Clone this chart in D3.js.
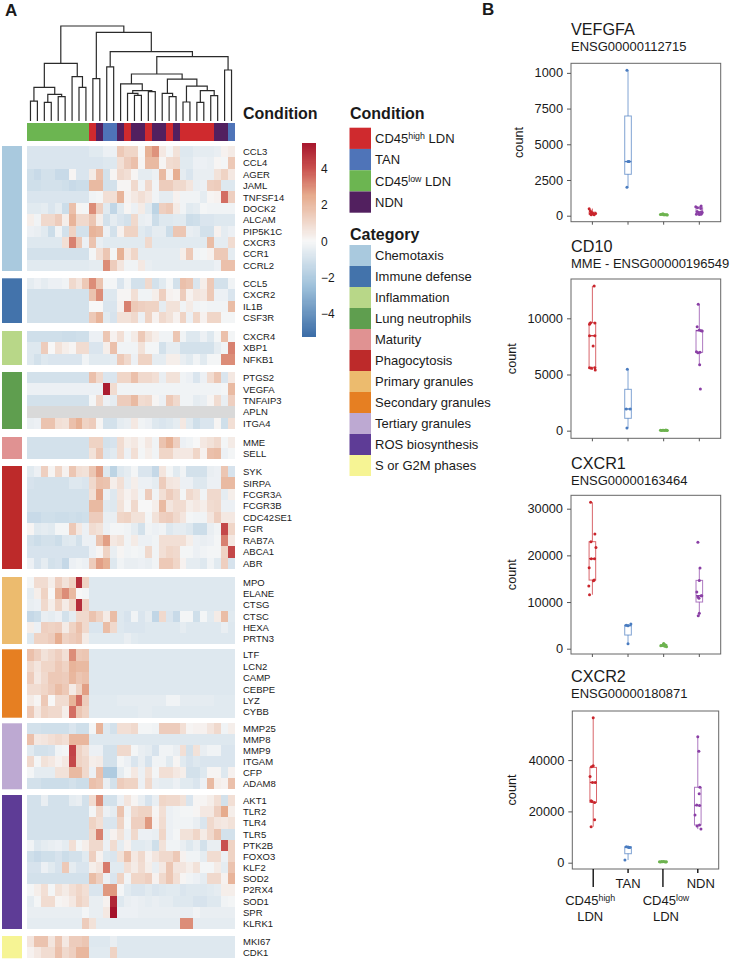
<!DOCTYPE html>
<html>
<head>
<meta charset="utf-8">
<title>Neutrophil heatmap and counts</title>
<style>
body { margin: 0; background: #fff; }
text { font-family: "Liberation Sans", Arial, sans-serif; fill: #1a1a1a; }
</style>
</head>
<body>
<div id="chart"></div>
<script src="https://d3js.org/d3.v7.min.js"></script>
<script>

// Conditions and categories
var conditions = ["high", "TAN", "low", "NDN"];
var conditionColors = ["#cf2a2e", "#4f74b8", "#6cb551", "#52205f"];
var categories = ["Chemotaxis", "Immune defense", "Inflammation", "Lung neutrophils", "Maturity", "Phagocytosis",
    "Primary granules", "Secondary granules", "Tertiary granules", "ROS biosynthesis", "S or G2M phases"];
var categoryColors = ["#a9c9de", "#4373ab", "#b8d788", "#5f9e4f", "#e09292", "#bd2a2a",
    "#ecbb6e", "#e67f22", "#bda9d2", "#5e3c96", "#f6f494"];

// Condition of every heatmap column, left to right
var columnConditions = ["low","low","low","low","low","low","low","low","low",
    "high","NDN","TAN","TAN","NDN","high","NDN","NDN","high","NDN","NDN","high","NDN",
    "high","high","high","high","high","NDN","NDN","TAN"];

// Dendrogram: [merge height, left, right], a number is a column
var treeGreen = [60.7, [35.4, [21, 0, 1], [28, [19.6, 2, 3], [25.6, 4, 5]]], [46.7, 6, [35.4, 7, 8]]];
var treeRight = [67.7,
    [49.5,
        [39, 13, [32, [29, 14, [27, 15, 16]], [31, 17, 18]]],
        [44, [29, 19, [25.6, 20, 21]], [36.8, [20, 22, 23], [32, [19.6, 24, 25], [26.7, 26, 27]]]]],
    [53.7, 28, 29]];
var treeRoot = [100, treeGreen, [93.3, [44.6, 9, 10], [73, [57, 11, 12], treeRight]]];

// Heatmap z-scores per category
var chemotaxisGenes = ["CCL3","CCL4","AGER","JAML","TNFSF14","DOCK2","ALCAM","PIP5K1C","CXCR3","CCR1","CCRL2"];
var chemotaxisValues = [
[-.8,-.8,-.8,-.8,-.8,-.8,-.8,-.8,-.8,-.6,-.6,-.3,-.3,1.5,1.1,1.1,0,2.3,2.9,.5,-.1,.7,-.7,-.7,-.5,-.5,-.5,-.4,.2,.4],
[-.8,-.8,-.8,-.8,-.8,-.8,-.8,-.8,-.8,-.8,-.8,-.7,-.7,.8,1.4,1.8,.1,2,2,.1,.9,1,-.6,-.6,-.3,-.3,-.4,.1,-.1,1.5],
[-1.1,-1.3,-1,-1,-1.3,-1.3,.1,-.8,-.8,.4,1.8,-1,.1,1,.8,.1,-.5,-.5,-.3,2,.2,2.4,-.5,-.8,-.4,-.4,-.4,.7,1.2,.5],
[-1.1,-1.1,-1,-1,-1,-1.1,-1.3,-1.2,-1.2,2,2,-1,-1,.1,.1,1,-.2,1,-.2,1.4,1.4,1,1,.6,-.4,-.3,1.3,1.4,-.7,-.7],
[-.8,-.8,-.8,-.8,-.8,-.8,-.8,-.8,-.8,-.2,-.1,.8,.8,2.2,.2,.5,.8,.5,-.2,-.5,-.5,.2,-.2,-.2,-.2,-.5,.1,.2,3.5,1.3],
[-.6,-.6,-.5,-.8,-.5,-1.2,1.8,.1,-.1,3,1.3,-.6,-1.5,-.6,.1,-.3,.4,-.6,-1.6,1.3,1.5,.4,-.2,-.6,-.5,-.1,-.2,-.2,-.2,-.2],
[.3,-.2,1,1,1.4,.3,2.2,1,1,1.6,.3,-1,-.5,-.8,-1,1,-.4,-.3,-1.2,-.7,-.7,-.6,-.6,-1.2,-1.1,-.8,-.8,-.7,-.7,-.7],
[-.3,-.4,-.6,-1.2,-.2,-1,1.2,-1,-1,2.2,2,-.3,-1,.2,1.2,1.2,-.6,-.8,-.5,-.5,-1.2,1.6,1.6,-.4,-.5,-1,-1,.2,-.5,-.3],
[-.7,-.7,-.7,-.7,-.7,.8,3.2,1.5,-.3,1.7,-.4,-.6,-.6,-.6,-.6,-.6,-.6,1,-.6,-.6,-.6,-.6,-.6,-.6,-.6,-.6,1.9,-.5,-.5,.9],
[-1,-1,-1,-1,-1,-1,-1,-1,-1,-.1,.8,1.6,-.1,2.3,.5,1.1,-.5,-.5,-.5,-.5,-.5,-.5,.3,1.5,-.2,-.1,.2,1.5,1.5,-.5],
[-.6,-.6,-.6,-.6,-.6,-.6,-.6,-.6,-.6,-.5,-.5,3,1.4,.6,-.2,-.2,.5,-.4,-.5,-.5,-.5,-.5,-.5,-.5,-.5,-.5,-.5,-.3,1.8,1.8]];

var immuneGenes = ["CCL5","CXCR2","IL1B","CSF3R"];
var immuneValues = [
[-.5,-.3,-.5,-.3,-.3,-.2,1,.6,1.5,3,1.7,-.1,-.1,-.8,-.2,-1,-1,1,-1,-.6,-.1,-1,1.8,1.6,-.8,.3,1.5,-1,-1,-.2],
[-1,-1,-1,-1,-1,-1,-1,-1,-1,1.7,3,-.7,-.7,.1,.1,.8,-.2,-.2,.3,1.3,.2,.1,1.4,.2,.6,.5,1.5,-.3,-.3,-.8],
[-1,-1,-1,-1,-1,-1,-1,-1,-1,0,0,-.8,-.8,.2,3.2,1.5,1.3,1.2,1.2,-.5,.7,.7,-.2,.4,-.2,-.1,-.2,-.2,-.2,1.9],
[-1,-1,-1,-1,-1,-1,-1,-1,-1,1.5,2.2,-.6,-.9,.7,.7,1,-.3,1.2,.2,1,.7,.2,1.2,-.3,1.1,.2,1.1,1.1,-.1,-.1]];

var inflammationGenes = ["CXCR4","XBP1","NFKB1"];
var inflammationValues = [
[-1.1,-1.1,-1.1,-1.1,-1.1,-1.2,-1.2,-1.1,-1.1,-.3,-.3,1.6,.2,.8,-.1,.4,1.5,.7,.3,-.2,-.2,1.6,-.2,-.7,-.7,-.3,-.7,-.1,1.8,-.1],
[-.7,-.7,1.4,0,.7,.3,.1,.9,.9,-.8,-.8,.3,1.8,-.2,-.2,-.2,.7,-.1,-.1,-1,-.5,-.5,-1,-1,-1,-1,-1,-.5,-.2,3.2],
[-.7,-1,-.7,-.8,-.8,-.8,-.8,-.8,-.2,-.6,-.6,-.6,-.5,1.5,1,-.3,1.2,1.2,-.5,-.5,.3,.3,-.4,-.6,-.2,-.6,-.1,-.1,3,3]];

var lungGenes = ["PTGS2","VEGFA","TNFAIP3","APLN","ITGA4"];
var lungValues = [
[-1,-1,-1,-1,-1,-1,-1,-1,-1,1.8,1,-.8,-.8,1.1,1.1,1.8,1,1,.8,-.4,.7,.7,-.2,-.3,-.8,-.3,.9,1.6,-.8,.5],
[-.3,-.3,-.3,-.3,-.3,-.3,-.3,-.3,-.3,-.3,-.3,5.2,.9,-.2,-.2,-.2,-.2,-.2,-.2,-.2,-.2,-.2,-.2,-.2,-.2,-.2,-.2,-.2,-.1,2],
[-1,-1,-1,-1,-1,-1,-1,-1,-1,-.1,1,-.3,-.5,1.4,1.4,2,.9,1,.1,-.3,1.5,1,-.2,-.2,-.5,-.4,.1,.9,-.4,1.3],
[null,null,null,null,null,null,null,null,null,null,null,null,null,null,null,null,null,null,null,null,null,null,null,null,null,null,null,null,null,null],
[-.4,-.3,1.7,1.7,.8,.7,1.8,2.3,1.2,1.4,.1,-1,-1,-.5,-.4,.5,-.2,-.3,-.7,-.8,-.7,-.5,.5,-.6,-1.1,-.8,-.8,.1,-1.1,.8]];

var maturityGenes = ["MME","SELL"];
var maturityValues = [
[-1,-1,-1,-1,-1,-1,-1,-1,-1,1.2,1.2,-1,-.9,.9,.3,.5,.1,.5,-.2,1.7,2.3,1.3,-.3,-.2,0,.5,.7,1,-.1,.4],
[-1,-1,-1,-1,-1,-1,-1,-1,-1,.7,1.6,-.8,-.6,.9,-.3,.8,-.1,.3,-.2,1.1,1.1,.5,.5,.5,1.1,.2,1.8,1.9,-.3,-.1]];

var phagocytosisGenes = ["SYK","SIRPA","FCGR3A","FCGR3B","CDC42SE1","FGR","RAB7A","ABCA1","ABR"];
var phagocytosisValues = [
[-.6,-.3,1.3,.1,1.1,.2,1.6,.8,.7,1.6,2.7,-.7,-1.6,-.7,-.5,-.1,-.8,-.8,-1.4,.6,-.1,-.6,-.2,-1,-1,-1,-.4,-.3,1.6,-.9],
[-.9,-1,-1,-1,-1,-1,-.7,-.7,-.8,1,1.8,1.7,.3,.8,-.4,.3,-.3,-.3,-.5,1.4,.6,.5,-.3,-.3,-.7,-.7,-.3,-.3,2,2],
[-1,-1,-1,-1,-1,-1,-1,-1,-1,.8,2.6,-.3,-.7,.6,.2,.5,-.2,1.4,-.2,.8,1.4,1,-.1,1,.7,-.2,1,1,-.5,.3],
[-1,-1,-1,-1,-1,-1,-1,-1,-1,2,2,-.6,-.7,.7,.1,1,0,0,.3,2,.6,.9,.9,.3,.5,.3,.9,1,-.3,-.3],
[-1.3,-1.3,-1.1,-1.1,-1.2,-1.2,-1.1,-1.2,-1.1,1.4,1.4,-.4,-.4,1.1,1.2,.7,.7,-.1,.7,1.3,1.4,1,.6,-.1,-.2,-.2,.6,1.3,.5,.5],
[.1,-.6,-.5,-.6,-.1,-.1,1.5,.5,-.3,.9,.7,-.3,-.1,-.1,-.2,-.5,-1,-.2,-.3,-.2,-.7,-.5,-.5,-.7,-1.2,-1.2,-.4,-.2,4.2,1.1],
[-1,-1.2,-1,-1,-1.2,-.7,-.6,-1,-.3,-.3,1.7,2.7,.5,.7,-.2,.4,-.3,-.3,-.2,.8,.8,.8,.8,.3,-.3,-.4,-.3,-.1,3.2,.5],
[-.9,-.9,-.9,-.9,-.9,-.9,-.9,-.9,-.9,-.3,.1,1.2,-.4,.1,-.2,-.1,-.2,1,-.2,.8,1.1,1,-.1,-.1,-.3,-.2,-.1,-.1,1.2,4.2],
[-.3,-.9,-.5,-1,-.9,-1.4,-.3,-.2,-.3,1.4,2.7,2.3,-.7,-.2,-.4,-.4,-.3,-.4,-.2,1.5,1.5,1.1,.2,-.5,-.5,-.7,-.2,-.6,1.3,-.9]];

var primaryGenes = ["MPO","ELANE","CTSG","CTSC","HEXA","PRTN3"];
var primaryValues = [
[-.1,.9,.9,.3,1.3,.7,1.2,4.8,1.2,-.7,-.7,-.7,-.7,-.7,-.7,-.7,-.7,-.7,-.7,-.7,-.7,-.7,-.7,-.7,-.7,-.7,-.7,-.7,-.7,-.7],
[-.5,.3,1.2,0,2.2,3,2,0,-.1,-.7,-.7,-.7,-.7,-.7,-.7,-.7,-.7,-.7,-.7,-.7,-.7,-.7,-.7,-.7,-.7,-.7,-.7,-.7,-.7,-.7],
[-.4,-.3,1,.3,1.2,.4,1.1,4.8,1.2,-.7,-.7,-.7,-.7,-.7,-.7,-.7,-.7,-.7,-.7,-.7,-.7,-.7,-.7,-.7,-.7,-.7,-.7,-.7,-.7,-.7],
[-1.4,-1.2,-.4,-.5,-.3,-1,-.5,1,1,1.7,1.2,.4,1.9,-.7,-.9,-.2,-.8,-.5,-1.5,1,-.8,-1.3,-.1,-.1,-1.1,-.1,-.6,.4,1.9,-.6],
[.3,-.3,1.3,1.2,1.3,.4,1.2,1.8,1,-.8,-.8,1.9,1,-.7,-.8,-.8,-.8,-.7,-.7,-.7,-.7,-.7,-.5,-.7,-.7,-.7,-.7,-.7,-.4,-.7],
[-.7,1.2,1.2,1.4,2.4,1.2,1.4,1.6,.4,-.6,-.6,-.6,-.6,-.6,-.4,-.6,-.7,-.7,-.7,-.7,-.7,-.7,-.7,-.7,-.7,-.7,-.7,-.7,-.7,-.7]];

var secondaryGenes = ["LTF","LCN2","CAMP","CEBPE","LYZ","CYBB"];
var secondaryValues = [
[1.8,1.3,.7,1,1.3,.8,3,1.5,1.6,-.7,-.7,-.7,-.7,-.7,-.7,-.7,-.7,-.7,-.7,-.7,-.7,-.7,-.7,-.7,-.7,-.7,-.7,-.7,-.7,-.7],
[1,.6,1.1,1.1,1.5,1.2,2.2,2,2,-.7,-.7,-.7,-.7,-.7,-.7,-.7,-.7,-.7,-.7,-.7,-.7,-.7,-.7,-.7,-.7,-.7,-.7,-.7,-.7,-.7],
[1.4,.5,1,1.5,1.5,1.4,2.1,1.6,1.8,-.7,-.7,-.7,-.7,-.7,-.7,-.7,-.7,-.7,-.7,-.7,-.7,-.7,-.7,-.7,-.7,-.7,-.7,-.7,-.7,-.7],
[.9,.9,1.1,1.4,1.9,1.5,.4,1.2,2.7,-.7,-.7,-.7,-.7,-.7,-.7,-.7,-.7,-.7,-.7,-.7,-.7,-.7,-.7,-.7,-.7,-.7,-.7,-.7,-.7,-.7],
[.4,.1,1.5,0,.9,.9,2.2,3.5,1.4,-.6,-.6,-.6,-.6,-.5,-.5,-.5,-.5,-.5,-.5,-.5,-.2,-.2,-.5,-.5,-.5,-.5,-.5,-.6,-.6,-.6],
[1.5,.5,1.2,1,1,.3,3.5,1.6,1.2,-.6,-.6,-.6,-.6,-.6,-.6,-.6,-.5,-.5,-.6,-.6,-.6,-.6,-.6,-.6,-.6,-.6,-.6,-.6,-.6,-.6]];

var tertiaryGenes = ["MMP25","MMP8","MMP9","ITGAM","CFP","ADAM8"];
var tertiaryValues = [
[-1,-1,-1.1,-1.1,-1.1,-1.1,-.8,-1.1,-1.1,-.1,2.2,-.7,-1,.8,.8,1,-.1,-.1,-.2,1.4,1.4,1.4,.8,.1,.2,.2,.6,1,-.2,.3],
[1.8,.5,.6,.8,1,.8,2.1,2.1,2.1,-.7,-.7,-.7,-.7,-.7,-.7,-.7,-.7,-.7,-.7,-.7,-.7,-.7,-.7,-.7,-.7,-.7,-.7,-.7,-.7,-.7],
[-.6,-1,-1,-.9,-.2,-.1,4.3,1.2,.8,-.3,-.3,-1,-1,1,1,-.1,-.4,-.5,-.9,-.2,-.2,-.4,.8,-1,.7,-.4,-.2,-.2,-.8,-.8],
[1,-.1,.7,.5,.2,.5,4.2,1.2,1,.3,.4,-1,-1,-.1,-.3,-.8,-.4,-.9,-.2,-.2,-.6,.1,-.6,-.9,-.7,-.8,-.8,-.8,-.8,-.8],
[-.1,-.5,-.5,-.5,.7,.7,2,2,1,-.3,1.8,-2,-2,-.5,-.1,.5,-.3,.7,-.1,.8,.8,.5,.3,-1,-1,-.7,.1,.1,-.7,.2],
[-1,-1,-1.2,-1.2,-1.2,-1.2,-1,-1.2,-1.2,1.8,1.6,-.4,-1,1.4,1.2,1.2,-.3,1,-.4,-.5,-.5,-.3,-.6,-.6,-.8,-.3,2,.3,.2,1.8]];

var rosGenes = ["AKT1","TLR2","TLR4","TLR5","PTK2B","FOXO3","KLF2","SOD2","P2RX4","SOD1","SPR","KLRK1"];
var rosValues = [
[-1,-1,-.4,-1,-1,-1,-.5,-.4,-1,.9,3,-1,-1,-.3,.6,.1,-.4,-.9,-.4,1.1,1,1,.7,-.8,.1,.1,.3,.8,-1,.8],
[-1,-1,-1,-1,-1,-1,-1,-1,-1,-.1,1,-.3,-.5,1.7,-.2,1,1.2,1.2,.1,.8,-.3,-.2,-.1,-.1,.1,.5,.5,1.3,2.5,.3],
[-1,-1,-1,-1,-1,-1,-1,-1,-1,1.2,.8,-.8,-.8,1.2,-.1,1.3,1.3,2.8,.2,.9,-.3,-.2,-.2,-.2,-.4,-.8,1,.6,.5,.7],
[-1,-1,-1,-1,-1,-1,-1,-1,-1,1,3.2,-.5,.2,.7,-.3,1,-.3,-.3,-.4,1.1,-.3,-.1,.7,.7,1.1,.4,1,1.7,-1,-1],
[-.2,-.7,-.5,-.4,-.3,-.5,.8,-.1,.3,1,1,-.3,.9,-.5,.2,-.6,-.6,-.5,-1.1,.7,-.2,-.2,-.4,-.7,-.4,-1,-.4,-.4,4,1.2],
[-1.1,-1.3,-1.1,-1.1,-.9,-1.2,-1,-1,-.6,1.3,.2,-.7,-.8,.7,1.8,.5,1,.2,.6,1,1,1.5,.2,-.2,-.2,-.5,.9,.9,-.3,1.2],
[-.9,-.9,-.3,-.6,-.9,1.5,-.5,-.8,-.8,.3,.6,3.3,-.6,-.6,.8,.4,.9,.3,-.4,.5,1.6,.6,.6,.3,.7,-.1,-.1,.4,-.5,1.7],
[-1,-1,-1,-1,-1,-1,-1,-1,-1,1.9,1.3,-.3,-.8,1.2,-.2,1.1,1.1,1.3,.2,1,1.6,.8,.1,-.2,-.3,-.5,1,1,.2,2.2],
[-.1,.3,.8,-.1,.7,.4,.8,1.1,.8,-.8,-.8,2.8,2.8,-.1,-.6,-.8,-.8,-.6,-.8,-.7,-.6,-.6,-.8,-.7,-.7,-.7,-.6,-.5,.3,.3],
[-.5,-.1,.9,.9,.1,.2,.5,1.2,.9,-.4,-.4,.2,5,-.7,-.4,-.3,-.4,-.5,-.4,-.5,-.5,-.7,-.7,-.7,-.9,-.9,-.7,-.7,-.2,-.1],
[-.4,-.4,-.4,-.4,-.4,-.4,-.4,-.4,-.1,-.4,-.4,.5,5.5,-.3,-.3,-.3,-.4,-.4,-.4,-.4,-.4,-.4,-.4,-.4,-.2,-.4,-.4,-.4,-.4,-.4],
[-.5,-.5,-.5,-.5,-.5,-.5,-.5,-.5,1.4,.7,-.5,-.5,-.5,-.5,-.5,-.5,-.5,-.5,-.5,-.5,-.5,-.5,3,3,-.5,-.5,-.5,-.5,-.5,-.5]];

var phaseGenes = ["MKI67","CDK1"];
var phaseValues = [
[.6,1.7,1.7,.6,1.6,.5,1.4,1.4,1.6,-.7,-.7,-.7,-.4,-.7,-.7,-.7,-.7,-.7,-.7,-.7,-.7,-.7,-.7,-.7,-.7,-.7,-.7,-.7,-.7,-.7],
[.2,.5,.9,.9,1.8,1,1.3,2.1,2.1,-.6,-.6,-.6,1.2,-.7,-.7,-.7,-.7,-.7,-.7,-.7,-.7,-.7,-.7,-.7,-.7,-.7,-.7,-.7,-.7,-.7]];

// Box plots: [whisker low, q1, median, q3, whisker high] per condition
var vegfaTicks = [0, 2500, 5000, 7500, 10000];
var vegfaTickLabels = ["0", "2500", "5000", "7500", "1000"];
var vegfaBoxes = [[50, 100, 160, 250, 500], [1990, 2900, 3790, 6980, 10180], [50, 60, 70, 110, 130], [80, 120, 270, 560, 680]];
var vegfaCounts = [
    [490, 350, 250, 180, 130, 160, 60, 60, 120],
    [10180, 1990, 3790, 3790],
    [90, 110, 70, 60, 70, 130, 60, 50],
    [620, 560, 680, 500, 300, 270, 230, 100, 80, 100, 210]];
var vegfaJitter = [
    [-.09, -.06, -.03, 0, .03, .09, -.03, .05, -.05],
    [-.03, -.03, 0, .03],
    [-.09, -.05, 0, .05, .09, -.02, .02, .1],
    [-.1, -.05, .05, .04, -.06, .06, .08, -.08, 0, .05, -.02]];

var cd10Ticks = [0, 5000, 10000];
var cd10Boxes = [[5400, 5640, 8450, 9610, 12880], [240, 1100, 1930, 3680, 5460], [10, 20, 30, 40, 60], [5870, 6970, 8900, 8930, 11250]];
var cd10Counts = [
    [12880, 9610, 9580, 9470, 8450, 8450, 7540, 5610, 5550, 5600, 5400],
    [5460, 240, 1930, 1930],
    [30, 20, 40, 30, 10, 50, 30, 20],
    [11250, 9260, 8960, 8900, 8870, 7030, 6940, 6970, 5870, 3710]];
var cd10Jitter = [
    [.05, -.05, .07, -.08, -.08, .07, .02, -.08, -.03, .07, .08],
    [-.02, -.03, -.05, .06],
    [-.09, -.06, -.03, 0, .03, .06, .09, .1],
    [-.03, -.06, 0, .05, .08, -.08, -.04, .02, .01, .03]];

var cxcr1Ticks = [0, 10000, 20000, 30000];
var cxcr1Boxes = [[11570, 14710, 19290, 22930, 31360], [1070, 2930, 4930, 5070, 5290], [430, 560, 710, 860, 1140], [7070, 10000, 11360, 14640, 17290]];
var cxcr1Counts = [
    [31360, 24570, 22930, 21710, 19290, 19290, 17360, 14710, 14570, 13430, 11570],
    [5290, 5000, 4930, 1070],
    [1000, 790, 640, 710, 430, 500, 860, 1140],
    [22790, 17290, 14640, 12140, 11360, 11070, 11360, 10800, 7570, 7070]];
var cxcr1Jitter = [
    [-.05, .07, -.04, .1, -.03, .06, -.09, .05, .03, -.1, -.08],
    [.08, -.05, 0, 0],
    [0, .05, -.08, -.04, .08, .03, .02, 0],
    [-.04, .02, 0, -.07, .05, -.04, .07, -.01, 0, -.03]];

var cxcr2Ticks = [0, 20000, 40000];
var cxcr2Boxes = [[14030, 23500, 31300, 37150, 56500], [1040, 3500, 5970, 6240, 6240], [300, 350, 400, 450, 500], [13100, 14700, 22300, 29400, 49100]];
var cxcr2Counts = [
    [56500, 37800, 37400, 33600, 31300, 31300, 24160, 23900, 23500, 16760, 14030],
    [6230, 6100, 5970, 5970, 1040],
    [400, 300, 450, 350, 500, 400, 300, 400],
    [49100, 43400, 29400, 26900, 22500, 22300, 18600, 14700, 14300, 13100]];
var cxcr2Jitter = [
    [0, 0, -.05, -.09, -.02, .06, -.06, -.03, .04, .04, -.06],
    [-.05, 0, .05, .02, -.09],
    [-.1, -.07, -.04, -.01, .02, .05, .08, .1],
    [0, .03, .06, .04, -.03, .05, -.08, .05, -.02, .09]];

var width = 732, height = 960;
var pointColors = ["#c9252c", "#4a7cc0", "#6db34f", "#8a3fa5"];
var font = '"Liberation Sans", Arial, sans-serif';

var svg = d3.select("#chart").append("svg")
    .attr("width", width)
    .attr("height", height)
    .style("display", "block");

function panelLabel(t, x, y) {
    svg.append("text").attr("x", x).attr("y", y)
        .attr("font-size", 17).attr("font-weight", "bold").attr("fill", "#111").text(t);
}
panelLabel("A", 5, 16);
panelLabel("B", 482, 14.5);

//
// Panel A heatmap
//

var x = d3.scaleBand().domain(d3.range(30)).range([27, 235]);
var conditionColor = d3.scaleOrdinal().domain(conditions).range(conditionColors);
var heatColor = d3.scaleLinear()
    .domain([-5.2, -2.5, 0, 2.5, 4, 5.33])
    .range(["#3d6ea8", "#9dc0da", "#f7f7f7", "#e6ab8d", "#c9504e", "#a8182e"]);

// Dendrogram
var treeY = d3.scaleLinear().domain([0, 100]).range([121, 26]);
var root = d3.hierarchy(treeRoot, function(d) { return Array.isArray(d) ? d.slice(1) : null; });
root.eachAfter(function(n) {
    if (n.children) {
        n.px = d3.mean(n.children, function(c) { return c.px; });
        n.py = treeY(n.data[0]);
    } else {
        n.px = x(n.data) + x.bandwidth() / 2;
        n.py = treeY(0);
    }
});
svg.append("g").selectAll("path")
    .data(root.descendants().filter(function(n) { return n.children; }))
    .enter().append("path")
    .attr("fill", "none")
    .attr("stroke", "#2b2b2b")
    .attr("stroke-width", 1.2)
    .attr("d", function(n) {
        var a = n.children[0], b = n.children[1];
        return "M" + a.px + "," + a.py + "V" + n.py + "H" + b.px + "V" + b.py;
    });

// Column annotation
svg.append("g").attr("shape-rendering", "crispEdges").selectAll("rect")
    .data(columnConditions)
    .enter().append("rect")
    .attr("x", function(d, i) { return x(i); })
    .attr("y", 123)
    .attr("width", x.bandwidth())
    .attr("height", 18)
    .attr("fill", function(d) { return conditionColor(d); });

// Rows, one block per category
var groups = [
    { genes: chemotaxisGenes, values: chemotaxisValues, top: 146, bottom: 271 },
    { genes: immuneGenes, values: immuneValues, top: 278.3, bottom: 323 },
    { genes: inflammationGenes, values: inflammationValues, top: 331, bottom: 365 },
    { genes: lungGenes, values: lungValues, top: 372, bottom: 429 },
    { genes: maturityGenes, values: maturityValues, top: 437, bottom: 459 },
    { genes: phagocytosisGenes, values: phagocytosisValues, top: 466, bottom: 569 },
    { genes: primaryGenes, values: primaryValues, top: 577, bottom: 644 },
    { genes: secondaryGenes, values: secondaryValues, top: 649.3, bottom: 717.7 },
    { genes: tertiaryGenes, values: tertiaryValues, top: 723.3, bottom: 789.3 },
    { genes: rosGenes, values: rosValues, top: 795, bottom: 929 },
    { genes: phaseGenes, values: phaseValues, top: 936, bottom: 958.3 }
];

groups.forEach(function(g, gi) {
    var y = d3.scaleBand().domain(g.genes).range([g.top, g.bottom]);
    var block = svg.append("g");

    block.append("rect")
        .attr("x", 2).attr("y", g.top)
        .attr("width", 20).attr("height", g.bottom - g.top)
        .attr("fill", categoryColors[gi]);

    var rows = block.selectAll("g.row")
        .data(g.values)
        .enter().append("g")
        .attr("class", "row")
        .attr("shape-rendering", "crispEdges");

    rows.selectAll("rect")
        .data(function(d) { return d; })
        .enter().append("rect")
        .attr("x", function(d, i) { return x(i); })
        .attr("width", x.bandwidth())
        .attr("y", function(d, i, nodes) { return y(g.genes[g.values.indexOf(d3.select(nodes[i].parentNode).datum())]); })
        .attr("height", y.bandwidth())
        .attr("fill", function(d) { return d === null ? "#d9d9d9" : heatColor(d); });

    block.selectAll("text")
        .data(g.genes)
        .enter().append("text")
        .attr("x", 243)
        .attr("y", function(d) { return y(d) + y.bandwidth() / 2; })
        .attr("dy", "0.36em")
        .attr("font-size", 9.5)
        .attr("fill", "#222")
        .text(function(d) { return d; });
});

// Colour bar
var barY = d3.scaleLinear().domain([-5.2, 5.33]).range([336, 144]);
svg.append("g").attr("shape-rendering", "crispEdges").selectAll("rect")
    .data(d3.range(-5.2, 5.33, 0.06))
    .enter().append("rect")
    .attr("x", 302)
    .attr("width", 14)
    .attr("y", function(d) { return barY(d + 0.06); })
    .attr("height", barY(0) - barY(0.06) + 0.5)
    .attr("fill", function(d) { return heatColor(d); });

var barAxis = svg.append("g")
    .attr("transform", "translate(321,0)")
    .call(d3.axisRight(barY)
        .tickValues([-4, -2, 0, 2, 4])
        .tickSize(0)
        .tickPadding(0)
        .tickFormat(function(d) { return d < 0 ? "\u2212" + (-d) : d; }));
barAxis.select(".domain").remove();
barAxis.selectAll("text").attr("font-size", 12).attr("font-family", font).attr("fill", "#222");

// Legends
function legendTitle(t, lx, ly) {
    svg.append("text").attr("x", lx).attr("y", ly)
        .attr("font-size", 16).attr("font-weight", "bold").attr("fill", "#111").text(t);
}
legendTitle("Condition", 243, 119);
legendTitle("Condition", 350, 119);
legendTitle("Category", 350, 240);

function sup(sel, base, up, tail) {
    sel.append("tspan").text(base);
    sel.append("tspan").attr("font-size", "0.68em").attr("dy", -4).text(up);
    if (tail) sel.append("tspan").attr("dy", 4).text(tail);
}

var condY = d3.scaleBand().domain(conditions).range([127.7, 212.7]);
svg.append("g").selectAll("rect")
    .data(conditions)
    .enter().append("rect")
    .attr("x", 349.5).attr("width", 21.5)
    .attr("y", function(d) { return condY(d); })
    .attr("height", condY.bandwidth())
    .attr("fill", function(d) { return conditionColor(d); });
svg.append("g").selectAll("text")
    .data(conditions)
    .enter().append("text")
    .attr("x", 375)
    .attr("y", function(d) { return condY(d) + condY.bandwidth() / 2; })
    .attr("dy", "0.36em")
    .attr("font-size", 13)
    .attr("fill", "#222")
    .each(function(d) {
        var t = d3.select(this);
        if (d === "high") sup(t, "CD45", "high", " LDN");
        else if (d === "low") sup(t, "CD45", "low", " LDN");
        else t.text(d);
    });

var catY = d3.scaleBand().domain(categories).range([245, 476]);
svg.append("g").selectAll("rect")
    .data(categories)
    .enter().append("rect")
    .attr("x", 349.5).attr("width", 21.5)
    .attr("y", function(d) { return catY(d); })
    .attr("height", catY.bandwidth())
    .attr("fill", function(d, i) { return categoryColors[i]; });
svg.append("g").selectAll("text")
    .data(categories)
    .enter().append("text")
    .attr("x", 375)
    .attr("y", function(d) { return catY(d) + catY.bandwidth() / 2; })
    .attr("dy", "0.36em")
    .attr("font-size", 13)
    .attr("fill", "#222")
    .text(function(d) { return d; });

//
// Panel B box plots
//

function boxPlot(o) {
    var px = d3.scalePoint().domain(conditions).range([o.left, o.right]).padding(0.6);
    var py = d3.scaleLinear().domain(o.domain).range([o.bottom, o.top]);
    var step = px.step();
    var g = svg.append("g");

    g.append("text").attr("x", 571).attr("y", o.titleY).attr("font-size", 16.2).attr("fill", "#111").text(o.title);
    g.append("text").attr("x", 571).attr("y", o.titleY + 16).attr("font-size", 13).attr("fill", "#222").text(o.subtitle);

    g.append("rect")
        .attr("x", o.left).attr("y", o.top)
        .attr("width", o.right - o.left).attr("height", o.bottom - o.top)
        .attr("fill", "none").attr("stroke", "#666").attr("stroke-width", 1);

    var yAxis = g.append("g")
        .attr("transform", "translate(" + o.left + ",0)")
        .call(d3.axisLeft(py)
            .tickValues(o.ticks)
            .tickSize(4)
            .tickPadding(4)
            .tickFormat(function(d, i) { return o.labels ? o.labels[i] : d; }));
    yAxis.select(".domain").remove();
    yAxis.selectAll("line").attr("stroke", "#555");
    yAxis.selectAll("text").attr("font-size", 12.8).attr("font-family", font).attr("fill", "#222");

    g.append("text")
        .attr("transform", "translate(" + o.labelX + "," + ((o.top + o.bottom) / 2) + ") rotate(-90)")
        .attr("text-anchor", "middle")
        .attr("font-size", 12.7)
        .attr("fill", "#222")
        .text("count");

    // x ticks, the last panel has long ticks on the two wrapped labels
    g.selectAll("line.xtick")
        .data(conditions)
        .enter().append("line")
        .attr("class", "xtick")
        .attr("x1", function(d) { return px(d); })
        .attr("x2", function(d) { return px(d); })
        .attr("y1", o.bottom)
        .attr("y2", function(d) {
            if (!o.axisLabels) return o.bottom + 3;
            return (d === "high" || d === "low") ? o.bottom + 18 : o.bottom + 4;
        })
        .attr("stroke", o.axisLabels ? "#111" : "#555")
        .attr("stroke-width", o.axisLabels ? 1.4 : 1);

    conditions.forEach(function(c, i) {
        var b = o.boxes[i], cx = px(c), col = pointColors[i], hw = 3.3;
        var box = g.append("g").attr("stroke", col).attr("stroke-opacity", 0.7).attr("fill", "none");
        box.append("line").attr("x1", cx).attr("x2", cx).attr("y1", py(b[0])).attr("y2", py(b[1]));
        box.append("line").attr("x1", cx).attr("x2", cx).attr("y1", py(b[3])).attr("y2", py(b[4]));
        box.append("rect")
            .attr("x", cx - hw).attr("width", hw * 2)
            .attr("y", py(b[3])).attr("height", Math.abs(py(b[1]) - py(b[3])));
        box.append("line")
            .attr("x1", cx - hw).attr("x2", cx + hw)
            .attr("y1", py(b[2])).attr("y2", py(b[2]))
            .attr("stroke-width", 1.3).attr("stroke-opacity", 1);

        g.selectAll("circle.p" + i)
            .data(o.counts[i])
            .enter().append("circle")
            .attr("class", "p" + i)
            .attr("cx", function(d, j) { return cx + o.jitter[i][j] * step; })
            .attr("cy", function(d) { return py(d); })
            .attr("r", 1.5)
            .attr("fill", col);
    });

    return px;
}

boxPlot({ title: "VEFGFA", subtitle: "ENSG00000112715", titleY: 35, labelX: 523,
    left: 571, right: 720.7, top: 63.3, bottom: 221.7, domain: [-420, 10670],
    ticks: vegfaTicks, labels: vegfaTickLabels, boxes: vegfaBoxes, counts: vegfaCounts, jitter: vegfaJitter });

boxPlot({ title: "CD10", subtitle: "MME - ENSG00000196549", titleY: 251.5, labelX: 516,
    left: 571, right: 720.7, top: 279, bottom: 438.3, domain: [-680, 13500],
    ticks: cd10Ticks, boxes: cd10Boxes, counts: cd10Counts, jitter: cd10Jitter });

boxPlot({ title: "CXCR1", subtitle: "ENSG00000163464", titleY: 469, labelX: 516,
    left: 571, right: 720.7, top: 495.3, bottom: 654, domain: [-1135, 32870],
    ticks: cxcr1Ticks, boxes: cxcr1Boxes, counts: cxcr1Counts, jitter: cxcr1Jitter });

var lastX = boxPlot({ title: "CXCR2", subtitle: "ENSG00000180871", titleY: 682.3, labelX: 516,
    left: 572.3, right: 718.7, top: 711, bottom: 869, domain: [-2460, 59140], axisLabels: true,
    ticks: cxcr2Ticks, boxes: cxcr2Boxes, counts: cxcr2Counts, jitter: cxcr2Jitter });

// Axis labels under the last panel
var axisText = svg.append("g").attr("font-size", 13).attr("fill", "#222").attr("text-anchor", "middle");
axisText.append("text").attr("x", lastX("TAN")).attr("y", 888).text("TAN");
axisText.append("text").attr("x", lastX("NDN") + 3).attr("y", 888).text("NDN");
sup(axisText.append("text").attr("x", lastX("high") - 3).attr("y", 905), "CD45", "high");
axisText.append("text").attr("x", lastX("high") - 3).attr("y", 921).text("LDN");
sup(axisText.append("text").attr("x", lastX("low") + 3).attr("y", 905), "CD45", "low");
axisText.append("text").attr("x", lastX("low") + 3).attr("y", 921).text("LDN");

</script>
</body>
</html>
